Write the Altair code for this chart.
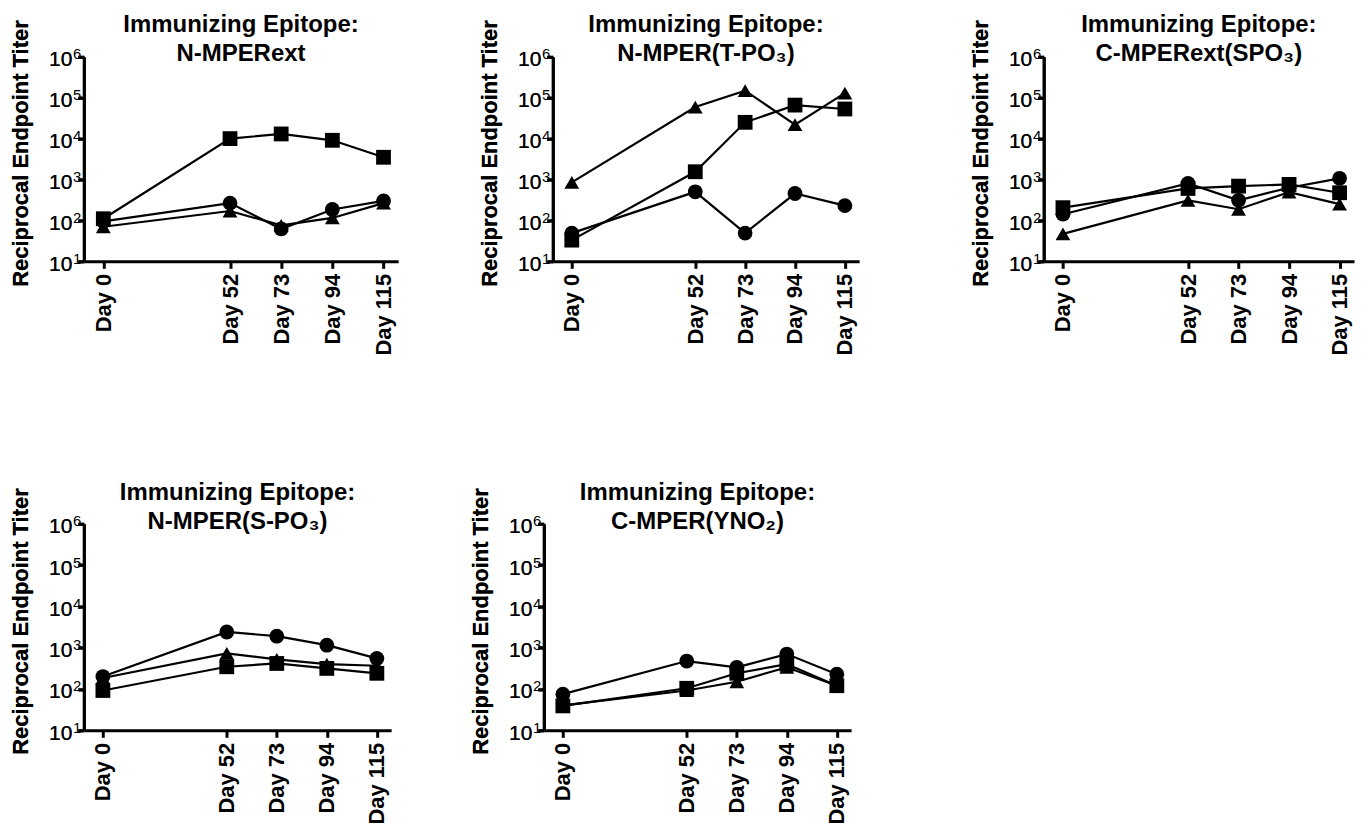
import altair as alt
import pandas as pd

days = [0, 52, 73, 94, 115]
day_labels = ["Day 0", "Day 52", "Day 73", "Day 94", "Day 115"]
series = ["circle", "square", "triangle"]
y_ticks = [10, 100, 1000, 10000, 100000, 1000000]

titles = [
    ["Immunizing Epitope:", "N-MPERext"],
    ["Immunizing Epitope:", "N-MPER(T-PO₃)"],
    ["Immunizing Epitope:", "C-MPERext(SPO₃)"],
    ["Immunizing Epitope:", "N-MPER(S-PO₃)"],
    ["Immunizing Epitope:", "C-MPER(YNO₂)"],
]

p1_circle = [95, 265, 62, 185, 300]
p1_square = [110, 10000, 13000, 9100, 3500]
p1_triangle = [70, 170, 76, 115, 265]

p2_circle = [49, 500, 49, 455, 230]
p2_square = [33, 1550, 25000, 66000, 53000]
p2_triangle = [850, 59000, 149000, 22000, 129000]

p3_circle = [142, 800, 310, 630, 1070]
p3_square = [205, 605, 690, 760, 475]
p3_triangle = [47, 310, 188, 490, 250]

p4_circle = [200, 2400, 1900, 1150, 550]
p4_square = [92, 345, 415, 315, 240]
p4_triangle = [185, 730, 520, 400, 365]

p5_circle = [75, 475, 335, 700, 228]
p5_square = [39, 104, 240, 400, 120]
p5_triangle = [40, 92, 150, 335, 120]

panels = [
    (p1_circle, p1_square, p1_triangle),
    (p2_circle, p2_square, p2_triangle),
    (p3_circle, p3_square, p3_triangle),
    (p4_circle, p4_square, p4_triangle),
    (p5_circle, p5_square, p5_triangle),
]

FONT = "Liberation Sans"
label_map = "{" + ", ".join(f"'{d}': '{l}'" for d, l in zip(days, day_labels)) + "}"


def make_panel(idx, width, height):
    rows = []
    for name, vals in zip(series, panels[idx]):
        for d, v in zip(days, vals):
            rows.append({"day": d, "titer": v, "series": name})
    df = pd.DataFrame(rows)
    yscale = alt.Scale(type="log", domain=[10, 1000000], nice=False)
    x = alt.X("day:Q",
              scale=alt.Scale(domain=[-8, 121], nice=False, zero=False),
              axis=alt.Axis(values=days, labelExpr=f"{label_map}[datum.value]",
                            labelAngle=270, labelFontSize=22, labelFontWeight="bold",
                            labelFont=FONT, labelColor="black", grid=False,
                            domainColor="black", domainWidth=3, tickColor="black",
                            tickWidth=3, tickSize=7, labelPadding=5, title=None,
                            labelOverlap=False))
    y = alt.Y("titer:Q", scale=yscale,
              axis=alt.Axis(values=y_ticks, labelExpr="'10'",
                            labelFontSize=21, labelFont=FONT,
                            labelColor="black", grid=False, domainColor="black",
                            domainWidth=3, tickColor="black", tickWidth=3, tickSize=6,
                            labelPadding=6, labelOffset=3, labelBaseline="middle",
                            title="Reciprocal Endpoint Titer",
                            titleFont=FONT, titleFontSize=22, titleFontWeight="bold",
                            titleColor="black", titlePadding=16, orient="left",
                            titleY=height / 2 - 6))
    y_exp = alt.Y("titer:Q", scale=yscale,
                  axis=alt.Axis(values=y_ticks,
                                labelExpr="'' + round(log(datum.value)/LN10)",
                                labelFontSize=15, labelFont=FONT, labelColor="black",
                                grid=False, domain=False, ticks=False,
                                labelPadding=3, labelOffset=-3, labelBaseline="middle",
                                labelAlign="right", title=None, orient="left"))
    base = alt.Chart(df)
    lines = base.mark_line(color="black", strokeWidth=2.2).encode(x=x, y=y, detail="series:N")
    pts = base.mark_point(filled=True, color="black", opacity=1, size=220).encode(
        x=x, y=y,
        shape=alt.Shape("series:N",
                        scale=alt.Scale(domain=series,
                                        range=["circle", "square", "triangle-up"]),
                        legend=None))
    exps = base.mark_point(opacity=0).encode(x=x, y=y_exp)
    return alt.layer(lines, pts, exps).resolve_axis(y="independent").properties(
        width=width, height=height,
        title=alt.TitleParams(titles[idx], font=FONT, fontSize=24, fontWeight="bold",
                              color="black", anchor="middle", frame="group",
                              lineHeight=29, offset=-46))


p1 = make_panel(0, 315, 205)
p2 = make_panel(1, 307, 205)
p3 = make_panel(2, 311, 205)
p4 = make_panel(3, 308, 207)
p5 = make_panel(4, 308, 207)

top = alt.hconcat(alt.hconcat(p1, p2, spacing=80), p3, spacing=110)
bottom = alt.hconcat(p4, p5, spacing=78)
chart = alt.vconcat(top, bottom, spacing=125).properties(
    padding={"left": 1, "top": 3, "right": 5, "bottom": 0}
).configure_view(stroke=None)

chart.save("out.html", embed_options={"renderer": "svg", "actions": False})
